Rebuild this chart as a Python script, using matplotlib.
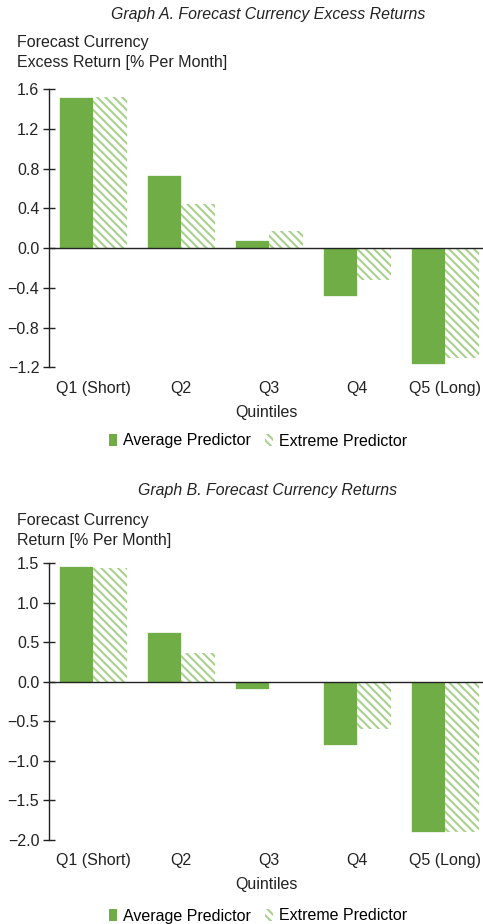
import numpy as np
import matplotlib
matplotlib.use("Agg")
import matplotlib.pyplot as plt
from matplotlib.patches import Patch

plt.rcParams['font.family'] = ['Liberation Sans', 'DejaVu Sans']
plt.rcParams['hatch.linewidth'] = 1.5

quintiles = ["Q1 (Short)", "Q2", "Q3", "Q4", "Q5 (Long)"]

# Graph A: forecast currency excess returns (% per month)
excess_avg = [1.52, 0.73, 0.08, -0.48, -1.17]
excess_ext = [1.52, 0.44, 0.17, -0.32, -1.11]

# Graph B: forecast currency returns (% per month)
ret_avg = [1.47, 0.63, -0.09, -0.80, -1.90]
ret_ext = [1.44, 0.36, -0.01, -0.60, -1.90]

solid_green = '#70ad47'
hatch_green = '#a9d18e'
ink = '#222222'

W, H = 483, 924
fig = plt.figure(figsize=(W / 100, H / 100), dpi=100)


def px(x0, y0, x1, y1):
    # axes rectangle from pixel coords (top-left origin)
    return [x0 / W, 1 - y1 / H, (x1 - x0) / W, (y1 - y0) / H]


def draw_panel(rect, avg, ext, ylim, yticks, title, ylabel, title_y, ylabel_y, legend_y):
    ax = fig.add_axes(rect)
    x = np.arange(len(quintiles))
    w = 0.39
    ax.bar(x - w / 2, avg, w, color=solid_green, edgecolor='white', linewidth=0.5)
    ax.bar(x + w / 2, ext, w, color='white', edgecolor=hatch_green, linewidth=0,
           hatch='\\\\\\\\')
    ax.axhline(0, color=ink, linewidth=1.0, zorder=3)
    ax.set_xlim(-0.5, 4.43)
    ax.set_ylim(*ylim)
    ax.set_yticks(yticks)
    ax.set_yticklabels([f"{t:.1f}".replace('-', '\u2212') for t in yticks])
    ax.set_xticks(x)
    ax.set_xticklabels(quintiles)
    for s in ['top', 'right', 'bottom']:
        ax.spines[s].set_visible(False)
    ax.spines['left'].set_linewidth(1.0)
    ax.spines['left'].set_color(ink)
    ax.tick_params(axis='y', direction='inout', length=8, width=1.0, labelsize=11.5, pad=3,
                   colors=ink)
    ax.tick_params(axis='x', length=0, labelsize=11.5, pad=10, colors=ink)
    ax.set_xlabel("Quintiles", fontsize=11.5, labelpad=6, color=ink)

    fig.text(268 / W, 1 - title_y / H, title, fontsize=11.4, style='italic',
             ha='center', va='center', color=ink)
    fig.text(17 / W, 1 - ylabel_y / H, ylabel, fontsize=11.5, ha='left', va='top',
             linespacing=1.38, color=ink)

    handles = [Patch(facecolor=solid_green, edgecolor='none', label='Average Predictor'),
               Patch(facecolor='white', edgecolor=hatch_green, linewidth=0,
                     hatch='\\\\\\\\', label='Extreme Predictor')]
    fig.legend(handles=handles, loc='center', bbox_to_anchor=(258 / W, 1 - legend_y / H),
               ncol=2, frameon=False, fontsize=11.5, handlelength=0.5, handleheight=0.8,
               handletextpad=0.35, columnspacing=0.9)
    return ax


draw_panel(px(49, 89, 483, 367.3), excess_avg, excess_ext, (-1.2, 1.6),
           [-1.2, -0.8, -0.4, 0.0, 0.4, 0.8, 1.2, 1.6],
           "Graph A. Forecast Currency Excess Returns",
           "Forecast Currency\nExcess Return [% Per Month]",
           15, 35, 441)

draw_panel(px(49, 563.3, 483, 839.5), ret_avg, ret_ext, (-2.0, 1.5),
           [-2.0, -1.5, -1.0, -0.5, 0.0, 0.5, 1.0, 1.5],
           "Graph B. Forecast Currency Returns",
           "Forecast Currency\nReturn [% Per Month]",
           491, 513, 916)

fig.savefig("out.png", dpi=100)
